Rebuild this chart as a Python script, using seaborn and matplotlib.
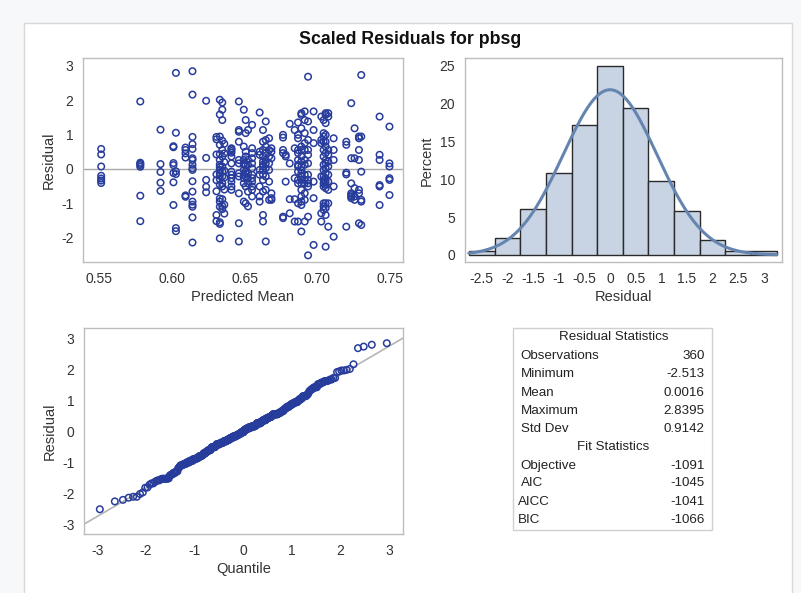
import numpy as np
import pandas as pd
import matplotlib
matplotlib.use("Agg")
import matplotlib.pyplot as plt
import seaborn as sns
from statistics import NormalDist

# ---------------- data ----------------
pred_levels = [0.5513, 0.5782, 0.5921, 0.6010, 0.6027, 0.6093, 0.6141, 0.6235,
               0.6306, 0.6329, 0.6346, 0.6360, 0.6409, 0.6460, 0.6494, 0.6507,
               0.6523, 0.6551, 0.6603, 0.6626, 0.6645, 0.6668, 0.6684, 0.6764,
               0.6782, 0.6810, 0.6844, 0.6867, 0.6890, 0.6913, 0.6936, 0.6974,
               0.7027, 0.7043, 0.7057, 0.7075, 0.7112, 0.7199, 0.7233, 0.7256,
               0.7286, 0.7302, 0.7428, 0.7496]

resid_by_level = [
    [0.58, 0.42, 0.07, -0.20, -0.28, -0.34, -0.41],
    [1.96, 0.18, 0.145, 0.11, 0.06, -0.78, -1.52],
    [1.14, 0.14, -0.09, -0.40, -0.64],
    [0.66, 0.63, 0.17, 0.11, -0.12, -0.39, -1.05],
    [2.79, 1.05, -0.07, -0.15, -1.72, -1.81],
    [0.62, 0.55, 0.45, 0.33, -0.77, -0.81],
    [2.8395, 2.16, 0.93, 0.72, 0.58, 0.31, 0.26, 0.12, 0.02, -0.03, -0.36, -0.66, -0.95, -1.04, -1.10, -1.41, -2.14],
    [1.98, 0.32, -0.32, -0.52, -0.68],
    [0.93, 0.86, 0.42, -0.16, -0.33, -0.65, -1.34, -1.52],
    [2.01, 1.58, 0.94, 0.70, 0.43, 0.26, 0.12, 0.05, -0.03, -0.11, -0.20, -0.30, -0.46, -0.86, -0.95, -1.10, -1.55, -1.60, -2.02],
    [1.93, 1.72, 1.42, 0.82, 0.55, 0.36, 0.07, -0.08, -0.22, -0.42, -0.51, -0.88, -1.08, -1.17],
    [0.73, 0.45, 0.20, -0.05, -0.25, -0.60, -1.04, -1.30],
    [0.60, 0.57, 0.52, 0.47, 0.36, 0.16, -0.08, -0.17, -0.27, -0.37, -0.51, -0.61],
    [1.96, 1.13, 1.08, 0.79, 0.26, 0.16, -0.13, -0.22, -0.71, -1.58, -2.11],
    [1.72, 0.65, 0.26, 0.16, 0.12, -0.03, -0.17, -0.27, -0.42, -0.95],
    [1.42, 1.04, 0.50, 0.36, 0.12, -0.08, -0.13, -0.22, -0.51, -1.00],
    [1.13, 0.26, 0.12, -0.13, -0.27, -0.42, -0.66, -1.09],
    [1.28, 0.60, 0.46, 0.31, 0.16, 0.02, -0.17, -0.27, -0.37, -0.51, -0.61, -0.80],
    [1.64, 0.50, 0.41, -0.03, -0.17, -0.51, -0.80, -0.95],
    [1.13, 0.79, 0.55, 0.36, 0.21, 0.12, 0.07, -0.03, -0.17, -0.32, -0.66, -1.34, -1.53],
    [1.38, 0.84, 0.65, 0.46, 0.26, 0.16, 0.02, -0.22, -0.61, -2.11],
    [0.89, 0.55, 0.36, 0.16, -0.03, -0.37, -0.90],
    [0.60, 0.50, 0.31, -0.71, -0.85, -0.90],
    [0.99, 0.91, 0.55, 0.46, -1.39, -1.43],
    [0.41, 0.36, -0.37],
    [1.31, 0.16, -0.88, -1.29],
    [1.13, 0.60, -0.27, -0.88, -1.53],
    [1.35, 0.99, 0.89, 0.55, 0.46, 0.26, 0.12, 0.07, -0.08, -0.32, -0.42, -1.00, -1.53],
    [1.62, 1.57, 1.18, 0.65, 0.55, 0.36, 0.21, 0.07, -0.03, -0.13, -0.22, -0.32, -0.42, -0.61, -0.80, -0.95, -1.05, -1.82],
    [1.67, 1.42, 1.04, 0.75, 0.55, 0.26, 0.12, -0.17, -0.32, -0.42, -0.71, -0.90, -1.53],
    [2.68, 1.38, 0.84, 0.55, 0.41, 0.16, -0.17, -0.32, -0.42, -0.51, -1.39, -2.513],
    [1.67, 1.13, 0.75, -0.37, -0.85, -2.21],
    [1.52, 0.84, 0.75, -0.22, -1.29, -1.53],
    [1.42, 1.04, 0.94, 0.79, 0.55, 0.36, 0.12, -0.03, -0.22, -0.32, -0.42, -0.51, -1.00, -1.09, -1.19],
    [1.62, 1.57, 1.33, 0.99, 0.79, 0.65, 0.46, 0.26, 0.16, 0.02, -0.13, -0.27, -0.37, -0.47, -0.56, -1.00, -1.14, -1.34, -2.26],
    [1.62, 1.52, 0.55, 0.41, 0.21, 0.07, -0.17, -0.37, -0.61, -1.00, -1.68],
    [0.89, 0.55, 0.26, -0.51, -1.97],
    [0.79, 0.70, -0.11, -0.16, -1.68],
    [1.91, 0.31, -0.42, -0.71, -0.76, -0.80, -0.85],
    [1.18, 0.31, -0.56, -0.80, -0.90],
    [0.94, 0.89, 0.55, 0.26, -0.61, -0.71, -1.58],
    [2.73, 0.94, -0.08, -0.90, -0.95, -1.63],
    [1.52, 0.41, 0.26, -0.47, -0.51, -1.05],
    [1.23, 0.16, 0.07, -0.27, -0.32, -0.76],
]

hist_centers = [-2.5, -2.0, -1.5, -1.0, -0.5, 0.0, 0.5, 1.0, 1.5, 2.0, 2.5, 3.0]
hist_percent = [0.56, 2.22, 6.11, 10.83, 17.22, 25.00, 19.44, 9.72, 5.83, 1.94, 0.56, 0.56]

stat_labels = ["Observations", "Minimum", "Mean", "Maximum", "Std Dev"]
stat_values = ["360", "-2.513", "0.0016", "2.8395", "0.9142"]
fit_labels = ["Objective", "AIC", "AICC", "BIC"]
fit_values = ["-1091", "-1045", "-1041", "-1066"]
resid_mean = 0.0016
resid_sd = 0.9142

# ---------------- build frames ----------------
pm, rs = [], []
for lev, vals in zip(pred_levels, resid_by_level):
    for v in vals:
        pm.append(lev)
        rs.append(v)
df = pd.DataFrame({"pred": pm, "resid": rs})

srt = np.sort(df["resid"].values)
n = len(srt)
nd = NormalDist()
quant = [nd.inv_cdf((i + 1 - 0.375) / (n + 0.25)) for i in range(n)]
qq = pd.DataFrame({"q": quant, "r": srt})

hist_df = pd.DataFrame({"c": hist_centers, "p": hist_percent})

# ---------------- style ----------------
sns.set_style("white")
plt.rcParams["font.family"] = ["Liberation Sans", "DejaVu Sans"]
plt.rcParams["axes.edgecolor"] = "#BDBDBD"
plt.rcParams["axes.linewidth"] = 1.0
plt.rcParams["axes.unicode_minus"] = False

W, H = 801, 593
fig = plt.figure(figsize=(W / 100, H / 100), dpi=100)
fig.patch.set_facecolor("#F7F8FA")

def rect(l, t, r, b):
    return [l / W, 1 - b / H, (r - l) / W, (b - t) / H]

# white frame
frame = fig.add_axes([0, 0, 1, 1], zorder=-5)
frame.set_xlim(0, W)
frame.set_ylim(H, 0)
frame.axis("off")
frame.add_patch(plt.Rectangle((24, 23), 768, 600, facecolor="white",
                              edgecolor="#D8D8D8", linewidth=1.0))

fig.text(410 / W, 1 - 40 / H, "Scaled Residuals for pbsg", ha="center",
         va="center", fontsize=12.8, fontweight="bold", color="#111111")

mcol = "#283C9C"
tickcol = "#333333"
labsize = 10.5
ticksize = 10

def style_ax(ax):
    for s in ax.spines.values():
        s.set_color("#BDBDBD")
    ax.tick_params(axis="both", direction="out", length=4, width=0.8,
                   color="#9A9A9A", labelcolor=tickcol, labelsize=ticksize, pad=3)
    ax.set_facecolor("white")

# --- scatter ---
ax1 = fig.add_axes(rect(83.3, 58.3, 402.7, 262.3))
ax1.axhline(0, color="#A8A8A8", lw=1.0, zorder=1)
sns.scatterplot(data=df, x="pred", y="resid", ax=ax1, marker="o",
                facecolor="none", edgecolor=mcol, linewidth=1.1, s=22, zorder=3)
ax1.set_xlim(0.539, 0.7587)
ax1.set_ylim(-2.715, 3.215)
ax1.set_xticks([0.55, 0.60, 0.65, 0.70, 0.75])
ax1.set_xticklabels(["0.55", "0.60", "0.65", "0.70", "0.75"])
ax1.set_yticks([-2, -1, 0, 1, 2, 3])
ax1.set_xlabel("Predicted Mean", fontsize=labsize, color=tickcol, labelpad=3)
ax1.set_ylabel("Residual", fontsize=labsize, color=tickcol, labelpad=4)
style_ax(ax1)

# --- histogram ---
ax2 = fig.add_axes(rect(465, 58.3, 782.3, 262.3))
sns.histplot(x=hist_df["c"].values, weights=hist_df["p"].values,
             binwidth=0.5, binrange=(-2.75, 3.25), ax=ax2,
             color="#C8D4E4", edgecolor="#2A2A2A", linewidth=1.0, alpha=1.0)
xs = np.linspace(-2.75, 3.25, 300)
dens = [nd.pdf((x - resid_mean) / resid_sd) / resid_sd * 0.5 * 100 for x in xs]
sns.lineplot(x=xs, y=dens, ax=ax2, color="#6585B0", lw=2.2)
ax2.set_xlim(-2.825, 3.357)
ax2.set_ylim(-0.97, 25.97)
ax2.set_xticks(hist_centers)
ax2.set_xticklabels(["-2.5", "-2", "-1.5", "-1", "-0.5", "0", "0.5", "1",
                     "1.5", "2", "2.5", "3"])
ax2.set_yticks([0, 5, 10, 15, 20, 25])
ax2.set_xlabel("Residual", fontsize=labsize, color=tickcol, labelpad=3)
ax2.set_ylabel("Percent", fontsize=labsize, color=tickcol, labelpad=4)
style_ax(ax2)

# --- QQ plot ---
ax3 = fig.add_axes(rect(84.3, 328.3, 403.3, 534.3))
ax3.axline((0, resid_mean), slope=resid_sd, color="#B5B5B5", lw=1.2, zorder=1)
sns.scatterplot(data=qq, x="q", y="r", ax=ax3, marker="o",
                facecolor="none", edgecolor=mcol, linewidth=1.1, s=22, zorder=3)
ax3.set_xlim(-3.27, 3.29)
ax3.set_ylim(-3.32, 3.32)
ax3.set_xticks([-3, -2, -1, 0, 1, 2, 3])
ax3.set_yticks([-3, -2, -1, 0, 1, 2, 3])
ax3.set_xlabel("Quantile", fontsize=labsize, color=tickcol, labelpad=3)
ax3.set_ylabel("Residual", fontsize=labsize, color=tickcol, labelpad=4)
style_ax(ax3)

# --- statistics table ---
tb = fig.add_axes([0, 0, 1, 1], zorder=2)
tb.set_xlim(0, W)
tb.set_ylim(H, 0)
tb.axis("off")
tb.add_patch(plt.Rectangle((513.3, 328.3), 199, 201.7, facecolor="white",
                           edgecolor="#D0D0D0", linewidth=1.0))
fs = 9.6
row_y = [337.5, 356, 374.3, 392.7, 410.7, 429, 447, 465.7, 483.3, 501.7, 520]
tb.text(613.3, row_y[0], "Residual Statistics", ha="center", va="center",
        fontsize=fs, color="#222222")
for i, (lab, val) in enumerate(zip(stat_labels, stat_values)):
    y = row_y[1 + i]
    tb.text(520.7, y, lab, ha="left", va="center", fontsize=fs, color="#222222")
    tb.text(704.5, y, val, ha="right", va="center", fontsize=fs, color="#222222")
tb.text(613.3, row_y[6], "Fit Statistics", ha="center", va="center",
        fontsize=fs, color="#222222")
fit_x = [520.7, 520.7, 518, 518]
for i, (lab, val) in enumerate(zip(fit_labels, fit_values)):
    y = row_y[7 + i]
    tb.text(fit_x[i], y, lab, ha="left", va="center", fontsize=fs, color="#222222")
    tb.text(704.5, y, val, ha="right", va="center", fontsize=fs, color="#222222")

fig.savefig("out.png", dpi=100, facecolor=fig.get_facecolor())
